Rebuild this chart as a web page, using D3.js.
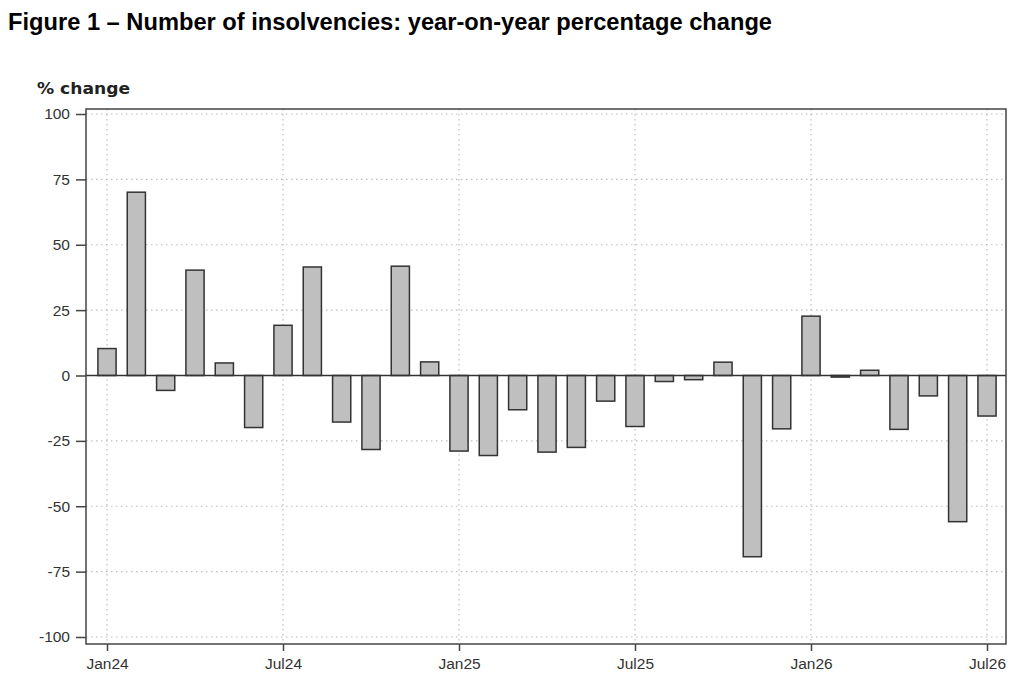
<!DOCTYPE html>
<html>
<head>
<meta charset="utf-8">
<script src="https://cdn.jsdelivr.net/npm/d3@7"></script>
<style>
  body { margin: 0; background: #fff; }
  text { font-family: "Liberation Sans", Arial, sans-serif; }
</style>
</head>
<body>
<div id="chart"></div>
<script>
// months shown on the x axis (Jan24 .. Jul26)
var months = ["Jan24","Feb24","Mar24","Apr24","May24","Jun24","Jul24","Aug24","Sep24","Oct24","Nov24","Dec24",
              "Jan25","Feb25","Mar25","Apr25","May25","Jun25","Jul25","Aug25","Sep25","Oct25","Nov25","Dec25",
              "Jan26","Feb26","Mar26","Apr26","May26","Jun26","Jul26"];
// year-on-year % change
var values = [10.3, 70.1, -5.7, 40.3, 4.8, -19.9, 19.2, 41.5, -17.8, -28.3, 41.8, 5.2,
              -28.9, -30.6, -13.1, -29.3, -27.5, -9.8, -19.5, -2.3, -1.6, 5.1, -69.3, -20.4,
              22.7, -0.6, 2.0, -20.6, -7.8, -55.9, -15.5];
var xTickLabels = ["Jan24","Jul24","Jan25","Jul25","Jan26","Jul26"];
var yTicks = [100, 75, 50, 25, 0, -25, -50, -75, -100];

var w = 1024, h = 689;
var svg = d3.select("#chart").append("svg").attr("width", w).attr("height", h);

// frame of the plot
var frame = {left: 86, right: 1006, top: 109, bottom: 644};

var x = d3.scalePoint().domain(months).range([107, 987]);
var y = d3.scaleLinear().domain([-100, 100]).range([637, 114]);
var barW = x.step() * 0.62;

// title
svg.append("text")
  .attr("x", 8).attr("y", 29.5)
  .style("font-size", "23.5px").style("font-weight", "bold")
  .attr("textLength", 764).attr("lengthAdjust", "spacingAndGlyphs")
  .text("Figure 1 \u2013 Number of insolvencies: year-on-year percentage change");

svg.append("text")
  .attr("x", 37).attr("y", 94)
  .style("font-family", "'DejaVu Sans', Verdana, sans-serif")
  .style("font-size", "16.5px").style("font-weight", "bold").style("fill", "#222")
  .attr("textLength", 93).attr("lengthAdjust", "spacingAndGlyphs")
  .text("% change");

// grid lines
var grid = svg.append("g").attr("stroke", "#bdbdbd").attr("stroke-dasharray", "1.5,3.5").attr("stroke-width", 1.2);
grid.selectAll(".hg").data(yTicks).enter().append("line")
  .attr("x1", frame.left).attr("x2", frame.right)
  .attr("y1", d => y(d)).attr("y2", d => y(d));
grid.selectAll(".vg").data(xTickLabels).enter().append("line")
  .attr("x1", d => x(d)).attr("x2", d => x(d))
  .attr("y1", frame.top).attr("y2", frame.bottom);

// bars
svg.append("g").selectAll("rect").data(values).enter().append("rect")
  .attr("x", (d, i) => x(months[i]) - barW / 2)
  .attr("y", d => y(Math.max(0, d)))
  .attr("width", barW)
  .attr("height", d => Math.abs(y(d) - y(0)))
  .attr("fill", "#bfbfbf")
  .attr("stroke", "#333")
  .attr("stroke-width", 1.5);

// zero line
svg.append("line")
  .attr("x1", frame.left).attr("x2", frame.right)
  .attr("y1", y(0)).attr("y2", y(0))
  .attr("stroke", "#333").attr("stroke-width", 1.3);

// frame
svg.append("rect")
  .attr("x", frame.left).attr("y", frame.top)
  .attr("width", frame.right - frame.left).attr("height", frame.bottom - frame.top)
  .attr("fill", "none").attr("stroke", "#444").attr("stroke-width", 1.5);

// y axis (hyphen minus like the original)
var yAxis = d3.axisLeft(y).tickValues(yTicks).tickSize(10).tickPadding(6)
  .tickFormat(d => String(d));
var yg = svg.append("g").attr("transform", "translate(" + frame.left + ",0)").call(yAxis);
yg.select(".domain").remove();
yg.selectAll("line").attr("stroke", "#444").attr("stroke-width", 1.5);
yg.selectAll("text").style("font-size", "15.5px").style("fill", "#333")
  .style("font-family", "'Liberation Sans', Arial, sans-serif");

// x axis
var xAxis = d3.axisBottom(x).tickValues(xTickLabels).tickSize(7).tickPadding(7);
var xg = svg.append("g").attr("transform", "translate(0," + frame.bottom + ")").call(xAxis);
xg.select(".domain").remove();
xg.selectAll("line").attr("stroke", "#444").attr("stroke-width", 1.5);
xg.selectAll("text").style("font-size", "15.5px").style("fill", "#333")
  .style("font-family", "'Liberation Sans', Arial, sans-serif");
</script>
</body>
</html>
